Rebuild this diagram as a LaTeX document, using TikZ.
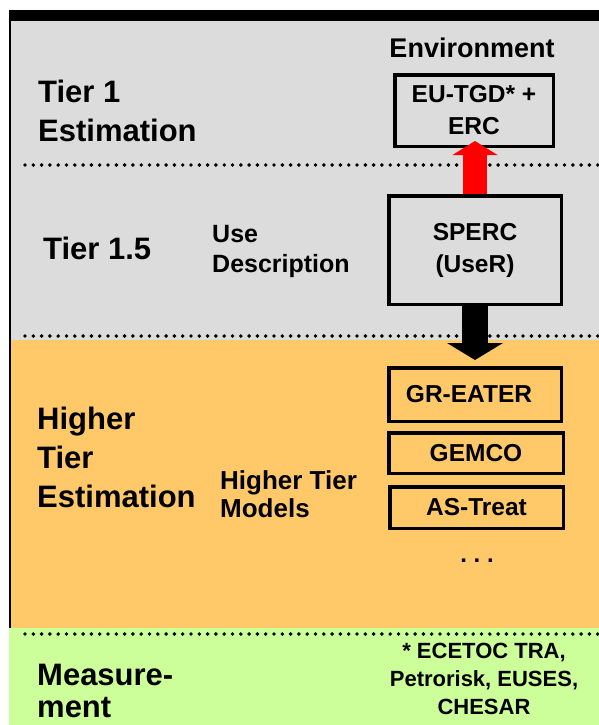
\documentclass[tikz,border=0pt]{standalone}
\usepackage{fontspec}
\setmainfont{Liberation Sans}
\usetikzlibrary{arrows.meta,calc}
\definecolor{graybg}{HTML}{DCDCDC}
\definecolor{orangebg}{HTML}{FFC869}
\definecolor{greenbg}{HTML}{CCFF99}
\newcommand\fsz[2]{\fontsize{#1}{#2}\selectfont}
\begin{document}
\begin{tikzpicture}[x=1pt,y=-1pt,
  box/.style={draw=black,line width=3.5pt,inner sep=0pt,align=center,font=\bfseries\fsz{24.5}{32}},
  big/.style={inner sep=0pt,anchor=west,align=left,font=\bfseries\fsz{31}{39}},
  mid/.style={inner sep=0pt,anchor=west,align=left,font=\bfseries\fsz{25}{30}},
  dotline/.style={line width=3.9pt,line cap=round,dash pattern=on 0pt off 8.3pt},
  fatarrow/.style={line width=#1}
]
\useasboundingbox (0,0) rectangle (599,725);
\fill[white] (0,0) rectangle (599,725);
\fill[graybg] (11,21) rectangle (599,340);
\fill[orangebg] (11,340) rectangle (599,628);
\fill[greenbg] (9,628) rectangle (599,725);
\fill[black] (9,10) rectangle (599,21);
\fill[black] (9,21) rectangle (11,628);

\draw[dotline] (25,165) -- (599,165);
\draw[dotline] (25,336) -- (599,336);
\draw[dotline] (25,634) -- (599,634);

\node[anchor=base,inner sep=0pt,font=\bfseries\fsz{27}{32}] (env) at (472,57) {Environment};
\node[box,minimum width=158.5pt,minimum height=71.5pt] (eu) at (474,110.5) {EU-TGD* +\\ERC};
\node[box,minimum width=172.5pt,minimum height=108.5pt] (sperc) at (475,250) {SPERC\\(UseR)};
\node[box,minimum width=172.5pt,minimum height=53.5pt] (gr) at (475,394.5) {GR-EATER\hspace*{12pt}};
\node[box,minimum width=174.5pt,minimum height=40.5pt] (gemco) at (476,453) {GEMCO};
\node[box,minimum width=173.5pt,minimum height=41.5pt] (as) at (476.5,507.5) {AS-Treat};
\node[anchor=base,inner sep=0pt,font=\bfseries\fsz{24}{28}] (more) at (477,562) {.\ .\ .};

\node[big] (t1) at (38,111.2) {Tier 1\\Estimation};
\node[big] (t15) at (43,248.7) {Tier 1.5};
\node[mid] (use) at (212,251.7) {Use\\Description};
\node[big] (hte) at (37,457.7) {Higher\\Tier\\Estimation};
\node[mid,font=\bfseries\fsz{26}{28}] (htm) at (220,494.5) {Higher Tier\\Models};
\node[big,font=\bfseries\fsz{31}{32}] (meas) at (37,690.7) {Measure-\\ment};
\node[align=center,inner sep=0pt,font=\bfseries\fsz{22}{28}] (note) at (484,678.5) {* ECETOC TRA,\\Petrorisk, EUSES,\\CHESAR};

\draw[fatarrow=24pt,red,-{Triangle[width=45pt,length=14pt,line width=0pt]},shorten >=-7pt]
  (sperc.north) -- (sperc.north |- eu.south);
\draw[fatarrow=26pt,black,-{Triangle[width=56pt,length=17pt,line width=0pt]},shorten >=6pt]
  (sperc.south) -- (sperc.south |- gr.north);
\end{tikzpicture}
\end{document}
